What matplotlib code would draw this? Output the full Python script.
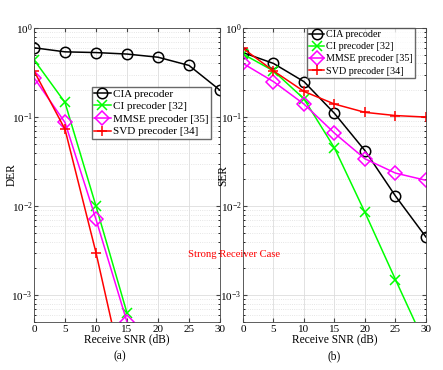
import matplotlib
matplotlib.use("Agg")
import matplotlib.pyplot as plt
from matplotlib.ticker import LogLocator, NullFormatter

plt.rcParams['font.family'] = 'Liberation Serif'
plt.rcParams['mathtext.fontset'] = 'stix'

snr = [0, 5, 10, 15, 20, 25, 30]
snr_a = [0, 5, 10, 15]

# (a) DER
der_cia = [0.60, 0.54, 0.53, 0.51, 0.47, 0.38, 0.20]
der_ci = [0.44, 0.146, 0.010, 0.00063]
der_mmse = [0.277, 0.087, 0.0071, 0.0005]
der_svd = [0.33, 0.073, 0.0030, 0.000085]

# (b) SER
ser_cia = [0.53, 0.40, 0.25, 0.11, 0.042, 0.013, 0.0045]
ser_ci = [0.51, 0.33, 0.16, 0.045, 0.0085, 0.0015, 0.00027]
ser_mmse = [0.40, 0.25, 0.14, 0.066, 0.034, 0.0235, 0.0195]
ser_svd = [0.59, 0.33, 0.194, 0.14, 0.113, 0.104, 0.10]

labels = ['CIA precoder', 'CI precoder [32]', 'MMSE precoder [35]', 'SVD precoder [34]']

fig = plt.figure(figsize=(4.43, 3.70), dpi=100)
ax1 = fig.add_axes([0.0767, 0.1297, 0.42, 0.7946])
ax2 = fig.add_axes([0.5485, 0.1297, 0.413, 0.7946])


def style(ax):
    ax.set_yscale('log')
    ax.set_xlim(0, 30)
    ax.set_ylim(5e-4, 1)
    ax.set_xticks(snr)
    ax.yaxis.set_major_locator(LogLocator(base=10))
    ax.yaxis.set_minor_locator(LogLocator(base=10, subs=range(2, 10)))
    ax.yaxis.set_minor_formatter(NullFormatter())
    ax.grid(True, which='major', color='#dddddd', linewidth=0.6)
    ax.grid(True, which='minor', axis='y', color='#dddddd', linestyle=':', linewidth=0.6)
    ax.tick_params(labelsize=8, direction='in', length=3, color='#444444', pad=2)
    ax.tick_params(axis='y', pad=1)
    ax.tick_params(which='minor', direction='in', length=1.5)
    ax.tick_params(top=True, right=True, which='both')
    for s in ax.spines.values():
        s.set_color('#444444')
        s.set_linewidth(0.6)
    ax.set_xlabel('Receive SNR (dB)', fontsize=8.3, labelpad=0)


kw = dict(linewidth=1.1, markersize=7.5, markerfacecolor='none', markeredgewidth=1.1)

ax1.plot(snr, der_cia, 'k-o', label=labels[0], **kw)
ax1.plot(snr_a, der_ci, '-x', color='#00ff00', label=labels[1], **kw)
ax1.plot(snr_a, der_mmse, '-D', color='#ff00ff', label=labels[2], **kw)
ax1.plot(snr_a, der_svd, '-+', color='#ff0000', label=labels[3], **kw)
style(ax1)
ax1.set_ylabel('DER', fontsize=8.3)
ax1.yaxis.set_label_coords(-0.09, 0.5)
ax1.legend(loc='upper left', bbox_to_anchor=(0.31, 0.80), fontsize=8, frameon=True,
           fancybox=False, edgecolor='#444444', handlelength=1.5, handletextpad=0.2,
           borderpad=0.2, labelspacing=0.25, borderaxespad=0)

ax2.plot(snr, ser_cia, 'k-o', label=labels[0], **kw)
ax2.plot(snr, ser_ci, '-x', color='#00ff00', label=labels[1], **kw)
ax2.plot(snr, ser_mmse, '-D', color='#ff00ff', label=labels[2], **kw)
ax2.plot(snr, ser_svd, '-+', color='#ff0000', label=labels[3], **kw)
style(ax2)
ax2.set_ylabel('SER', fontsize=8.3)
ax2.yaxis.set_label_coords(-0.075, 0.5)
ax2.legend(loc='upper right', bbox_to_anchor=(0.94, 1.0), fontsize=7.3, frameon=True,
           fancybox=False, edgecolor='#444444', handlelength=1.5, handletextpad=0.2,
           borderpad=0.2, labelspacing=0.3, borderaxespad=0)

fig.text(0.27, 0.038, '(a)', ha='center', va='center', fontsize=8.3)
fig.text(0.755, 0.038, '(b)', ha='center', va='center', fontsize=8.3)
fig.text(0.424, 0.313, 'Strong Receiver Case', color='#ff0000', fontsize=7.7, va='center')

fig.savefig('out.png', dpi=100)
